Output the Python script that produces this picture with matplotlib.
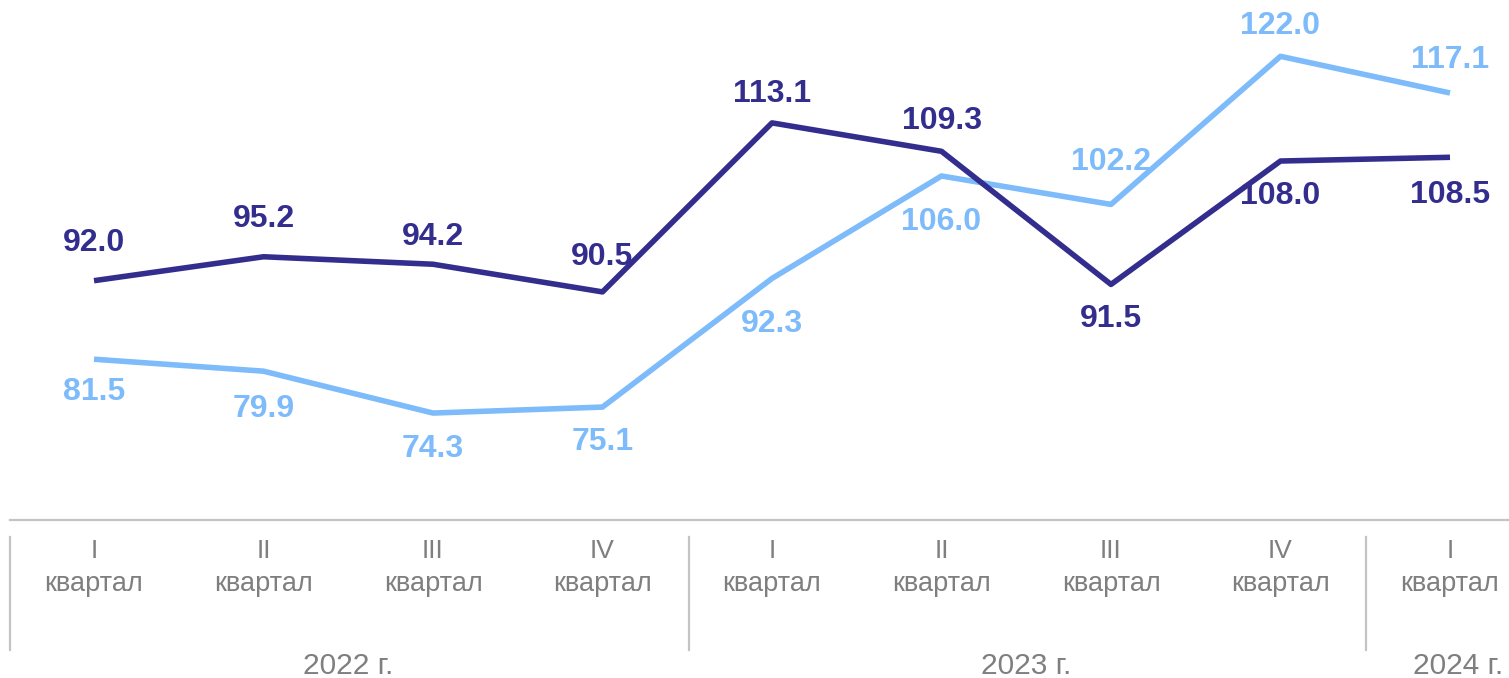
import matplotlib.pyplot as plt
import matplotlib.transforms as mtransforms
from matplotlib.lines import Line2D

plt.rcParams['font.family'] = ['Liberation Sans', 'DejaVu Sans']

# data
quarters = ["I", "II", "III", "IV", "I", "II", "III", "IV", "I"]
years = ["2022 г.", "2023 г.", "2024 г."]
dark_vals = [92.0, 95.2, 94.2, 90.5, 113.1, 109.3, 91.5, 108.0, 108.5]
light_vals = [81.5, 79.9, 74.3, 75.1, 92.3, 106.0, 102.2, 122.0, 117.1]

# label offsets in pixels (negative = above the point)
dark_dy = [-38, -38, -27, -35, -29, -30, 35, 35, 38]
light_dy = [33, 38, 36, 35, 46, 46, -42, -30, -33]

DARK = '#332E8E'
LIGHT = '#7DBBFA'
GRAY = '#7F7F7F'
LINE_GRAY = '#C4C4C4'

W, H = 1509, 678
fig = plt.figure(figsize=(W / 100, H / 100), dpi=100)

# axes: category centres at 94 + 169.5*i px, bottom (60) at y=520 px
x0 = 94 - 0.5 * 169.5
x1 = 94 + 8.5 * 169.5
ax = fig.add_axes([x0 / W, 1 - 520 / H, (x1 - x0) / W, (520 + 3.5) / H])
ax.set_xlim(-0.5, 8.5)
ax.set_ylim(60, 130)
ax.axis('off')

xs = list(range(len(quarters)))
ax.plot(xs, light_vals, color=LIGHT, lw=4, solid_joinstyle='round', solid_capstyle='butt', zorder=2)
ax.plot(xs, dark_vals, color=DARK, lw=4, solid_joinstyle='round', solid_capstyle='butt', zorder=3)

for x, v, dy in zip(xs, dark_vals, dark_dy):
    ax.annotate(f"{v:.1f}", (x, v), xytext=(0, -dy), textcoords='offset pixels',
                ha='center', va='center', fontsize=23, fontweight='bold', color=DARK)
for x, v, dy in zip(xs, light_vals, light_dy):
    ax.annotate(f"{v:.1f}", (x, v), xytext=(0, -dy), textcoords='offset pixels',
                ha='center', va='center', fontsize=23, fontweight='bold', color=LIGHT)

# category axis below the plot
tr = mtransforms.blended_transform_factory(ax.transData, fig.transFigure)


def fy(py):
    return 1 - py / H


fig.add_artist(Line2D([10 / W, 1], [fy(520), fy(520)], color=LINE_GRAY, lw=1.6,
                      transform=fig.transFigure))
for px in [10, 689, 1366]:
    fig.add_artist(Line2D([px / W, px / W], [fy(537), fy(650)], color=LINE_GRAY, lw=1.6,
                          transform=fig.transFigure))

for x, q in zip(xs, quarters):
    ax.text(x, fy(551), q, transform=tr, ha='center', va='center', fontsize=19, color=GRAY)
    ax.text(x, fy(584), "квартал", transform=tr, ha='center', va='center', fontsize=19.5, color=GRAY)

year_centres = [1.5, 5.5, 8.05]
for x, y in zip(year_centres, years):
    ax.text(x, fy(666), y, transform=tr, ha='center', va='center', fontsize=21.5, color=GRAY)

fig.savefig('out.png', dpi=100)
